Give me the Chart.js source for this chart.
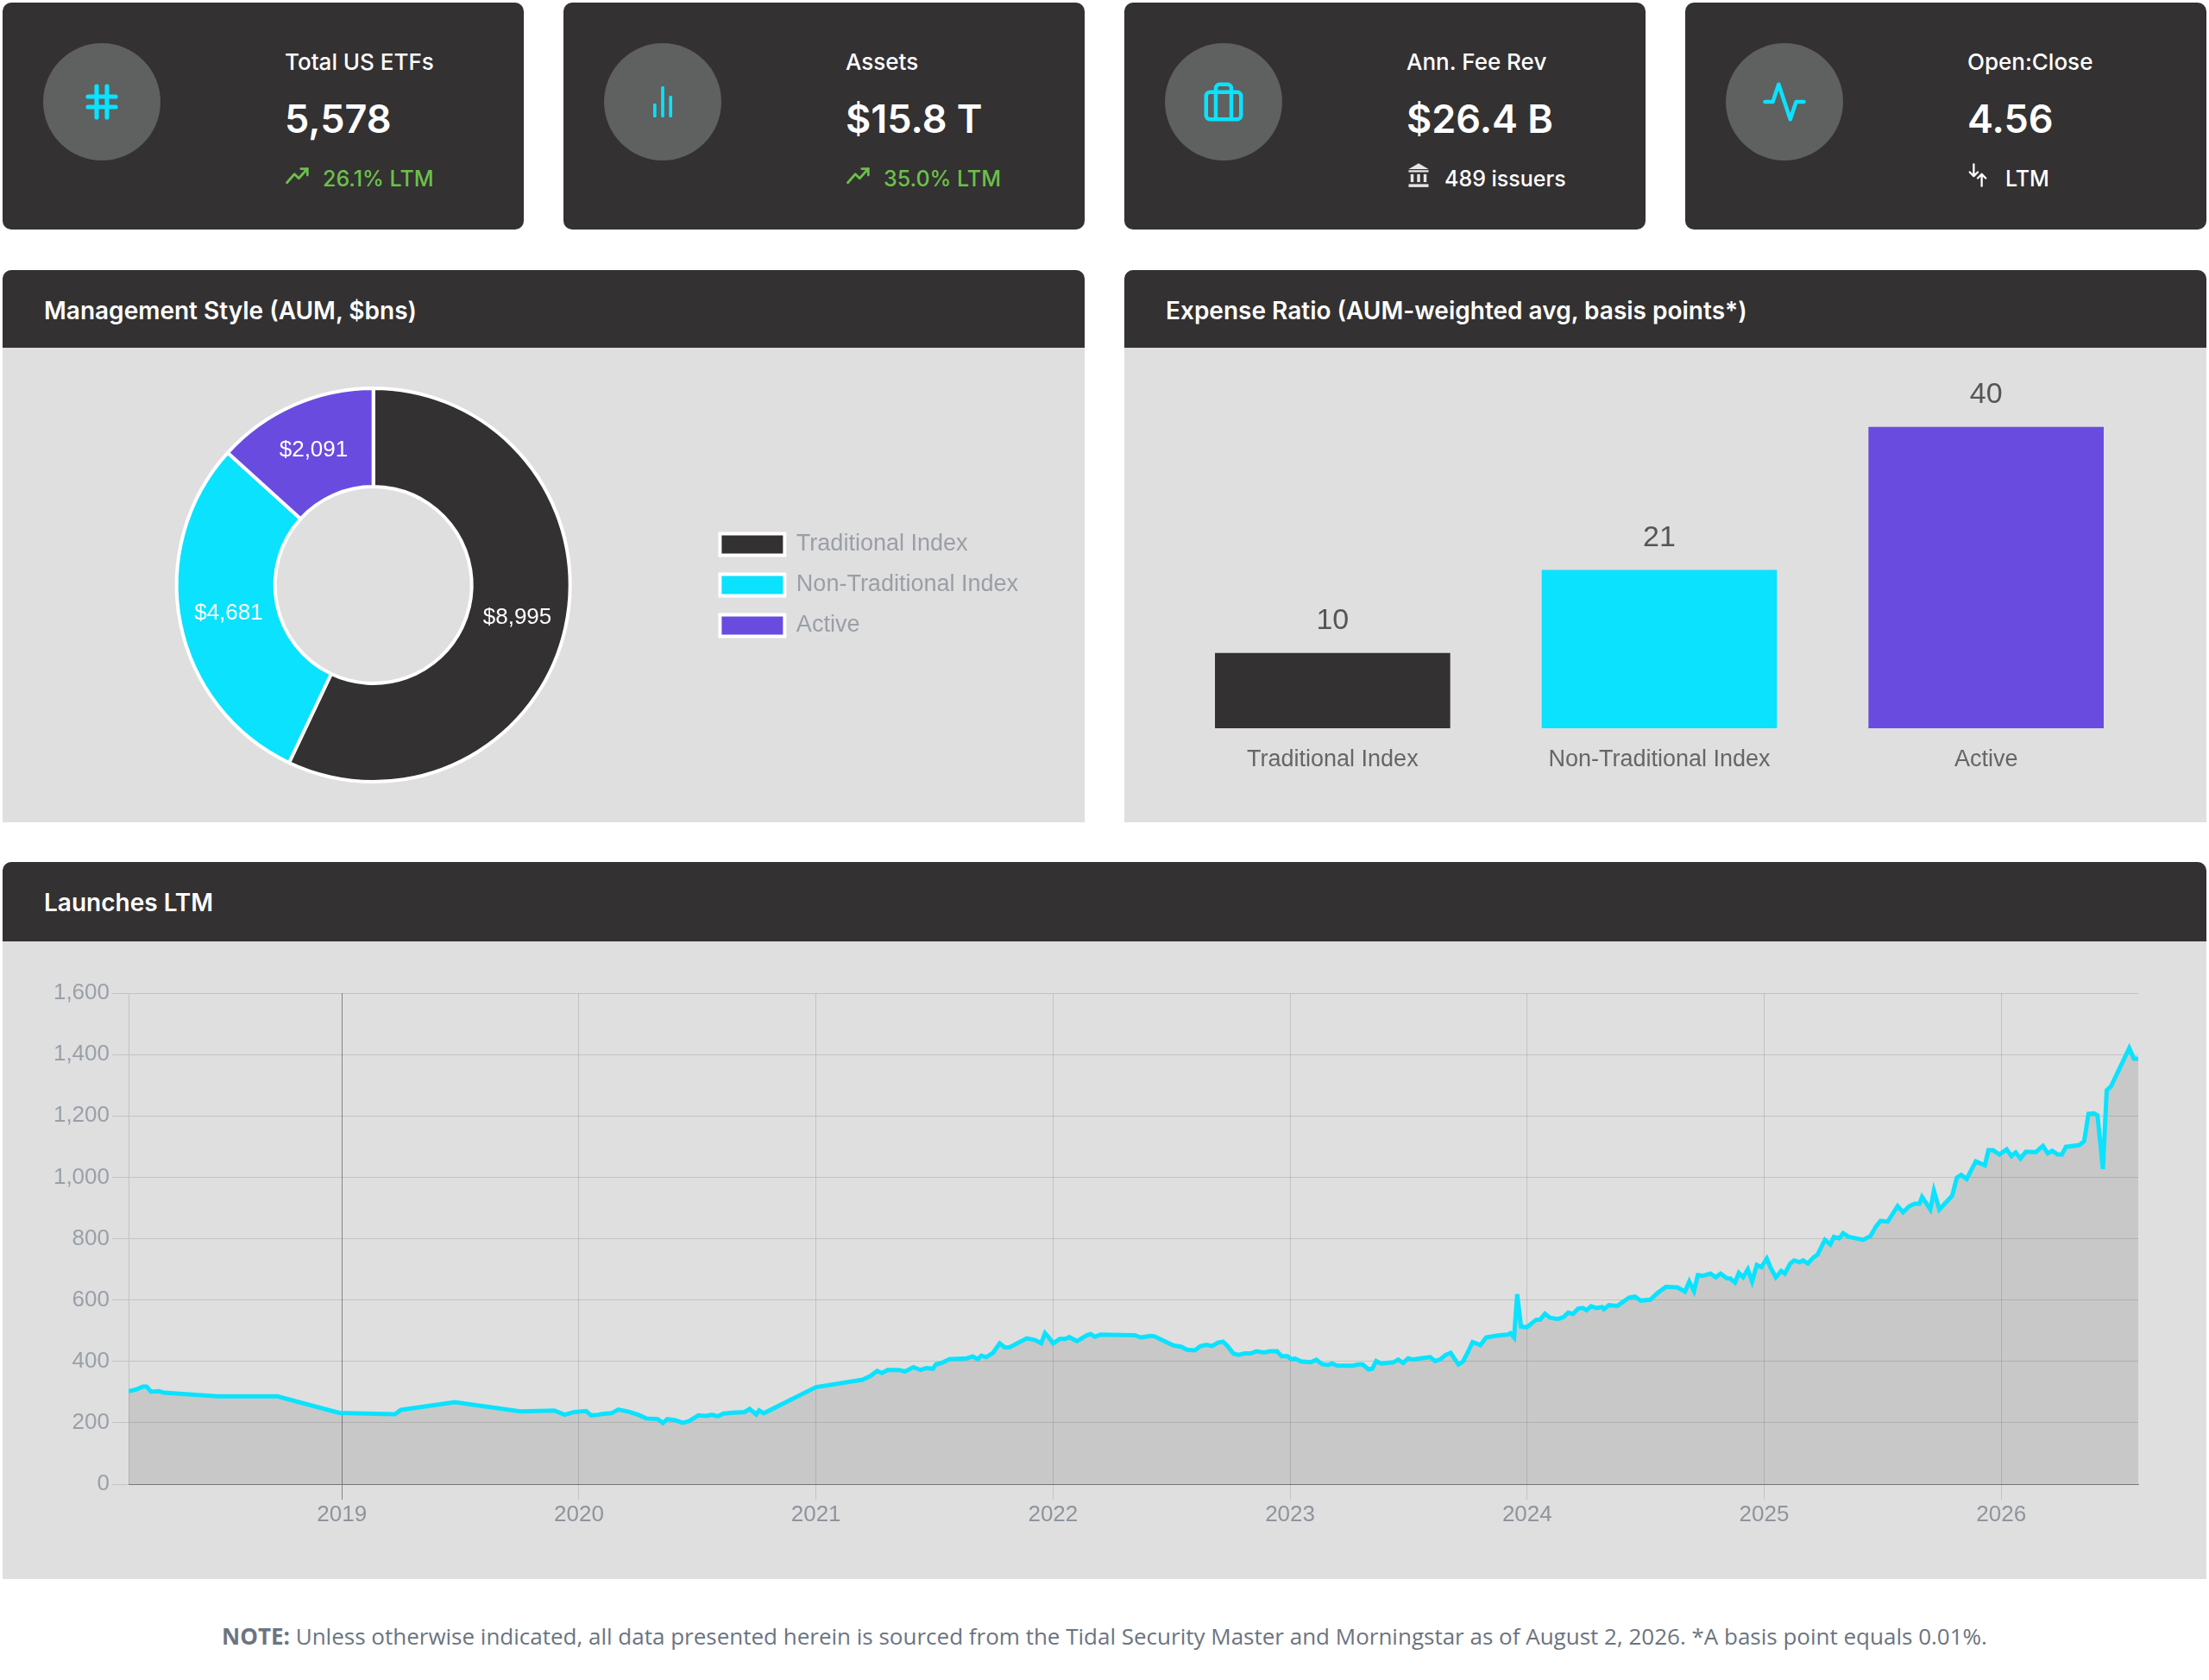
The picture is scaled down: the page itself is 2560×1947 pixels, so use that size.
<!DOCTYPE html>
<html lang="en">
<head>
<meta charset="utf-8">
<title>US ETF Dashboard</title>
<script src="https://cdn.jsdelivr.net/npm/chart.js@4.4.1/dist/chart.umd.min.js"></script>
<style>
  html, body { margin: 0; padding: 0; background: #fff; }
  body { width: 2560px; height: 1947px; position: relative; overflow: hidden; font-family: Inter, "Open Sans", sans-serif; }
  .card { position: absolute; top: 3px; width: 604px; height: 263px; background: #333132; border-radius: 10px; color: #fff; }
  .card .circle { position: absolute; left: 47px; top: 47px; width: 136px; height: 136px; border-radius: 50%; background: #5f6060; display: flex; align-items: center; justify-content: center; }
  .card .t { position: absolute; left: 327px; line-height: 1; white-space: nowrap; }
  .card .title { top: 56px; font-size: 26px; font-weight: 500; }
  .card .value { top: 112px; font-size: 45px; font-weight: 600; }
  .card .sub { top: 192px; left: 371px; font-size: 25px; font-weight: 500; }
  .card .subicon { position: absolute; left: 327px; top: 185px; }
  .panel { position: absolute; background: #dfdfdf; border-radius: 10px 10px 0 0; overflow: hidden; }
  .panel .head { position: absolute; left: 0; top: 0; right: 0; background: #333132; }
  .panel .head span { position: absolute; left: 48px; font-size: 28px; font-weight: 600; color: #fff; line-height: 1; white-space: nowrap; }
  .panel canvas { position: absolute; left: 0; }
  .note { position: absolute; left: 0; top: 1883px; width: 2560px; text-align: center; font-family: "Open Sans", sans-serif; font-size: 26px; color: #6b7480; line-height: 1; }
</style>
</head>
<body>

<div id="cards"></div>

<div class="panel" style="left:3px;top:313px;width:1254px;height:640px">
  <div class="head" style="height:90px"><span style="top:33px">Management Style (AUM, $bns)</span></div>
  <canvas id="styleChart" width="1254" height="550" style="top:90px"></canvas>
</div>

<div class="panel" style="left:1303px;top:313px;width:1254px;height:640px">
  <div class="head" style="height:90px"><span style="top:33px">Expense Ratio (AUM-weighted avg, basis points*)</span></div>
  <canvas id="expenseChart" width="1254" height="550" style="top:90px"></canvas>
</div>

<div class="panel" style="left:3px;top:999px;width:2554px;height:831px">
  <div class="head" style="height:92px"><span style="top:33px">Launches LTM</span></div>
  <canvas id="launchChart" width="2554" height="739" style="top:92px"></canvas>
</div>

<div class="note"><b>NOTE:</b> Unless otherwise indicated, all data presented herein is sourced from the Tidal Security Master and Morningstar as of August 2, 2026. *A basis point equals 0.01%.</div>

<script>
// Cartes KPI
const kpiTitles = ["Total US ETFs", "Assets", "Ann. Fee Rev", "Open:Close"];
const kpiValues = ["5,578", "$15.8 T", "$26.4 B", "4.56"];
const kpiSubs = ["26.1% LTM", "35.0% LTM", "489 issuers", "LTM"];

// Style de gestion
const styleLabels = ["Traditional Index", "Non-Traditional Index", "Active"];
const aumValues = [8995, 4681, 2091];
const expenseBps = [10, 21, 40];
const styleColors = ["#333132", "#0be2fd", "#6a4be0"];

// Lancements LTM (année décimale / nombre)
const launchYears = [
  2018.100, 2018.135, 2018.160, 2018.176, 2018.195, 2018.228, 2018.249, 2018.476, 2018.728, 2018.989,
  2019.224, 2019.249, 2019.476, 2019.753, 2019.896, 2019.940, 2019.980,
  2020.030, 2020.052, 2020.080, 2020.104, 2020.137, 2020.166, 2020.210, 2020.250, 2020.284, 2020.333,
  2020.354, 2020.373, 2020.406, 2020.438, 2020.463, 2020.504, 2020.536, 2020.561, 2020.585, 2020.610,
  2020.650, 2020.699, 2020.720, 2020.748, 2020.760, 2020.780,
  2021.000, 2021.196, 2021.229, 2021.258, 2021.278, 2021.302, 2021.351, 2021.375, 2021.411, 2021.441,
  2021.465, 2021.493, 2021.506, 2021.530, 2021.563, 2021.636, 2021.661, 2021.682, 2021.698, 2021.718,
  2021.747, 2021.775, 2021.796, 2021.816, 2021.889, 2021.922, 2021.950, 2021.966, 2021.982,
  2022.000, 2022.028, 2022.052, 2022.068, 2022.101, 2022.142, 2022.158, 2022.177, 2022.199, 2022.345,
  2022.370, 2022.410, 2022.427, 2022.508, 2022.540, 2022.565, 2022.598, 2022.622, 2022.647, 2022.671,
  2022.695, 2022.717, 2022.736, 2022.760, 2022.782, 2022.809, 2022.834, 2022.858, 2022.890, 2022.915,
  2022.945, 2022.964, 2022.989,
  2023.005, 2023.021, 2023.046, 2023.086, 2023.111, 2023.135, 2023.160, 2023.176, 2023.200, 2023.265,
  2023.290, 2023.306, 2023.331, 2023.347, 2023.363, 2023.384, 2023.436, 2023.456, 2023.477, 2023.498,
  2023.518, 2023.550, 2023.591, 2023.612, 2023.635, 2023.656, 2023.677, 2023.710, 2023.730, 2023.746,
  2023.770, 2023.803, 2023.827, 2023.860, 2023.884, 2023.917, 2023.930, 2023.945, 2023.958, 2023.974,
  2023.998,
  2024.039, 2024.055, 2024.075, 2024.096, 2024.129, 2024.153, 2024.173, 2024.194, 2024.215, 2024.235,
  2024.251, 2024.270, 2024.292, 2024.316, 2024.324, 2024.345, 2024.381, 2024.406, 2024.430, 2024.454,
  2024.479, 2024.520, 2024.550, 2024.586, 2024.635, 2024.666, 2024.684, 2024.704, 2024.720, 2024.742,
  2024.773, 2024.796, 2024.816, 2024.842, 2024.857, 2024.877, 2024.893, 2024.911, 2024.931, 2024.949,
  2024.969, 2024.988,
  2025.011, 2025.026, 2025.049, 2025.072, 2025.087, 2025.110, 2025.126, 2025.149, 2025.164, 2025.184,
  2025.210, 2025.225, 2025.256, 2025.279, 2025.294, 2025.317, 2025.333, 2025.356, 2025.387, 2025.417,
  2025.448, 2025.471, 2025.491, 2025.521, 2025.563, 2025.586, 2025.613, 2025.635, 2025.655, 2025.666,
  2025.701, 2025.716, 2025.739, 2025.793, 2025.813, 2025.831, 2025.854, 2025.893, 2025.931, 2025.946,
  2025.966, 2025.992,
  2026.023, 2026.043, 2026.061, 2026.081, 2026.104, 2026.146, 2026.176, 2026.196, 2026.215, 2026.238,
  2026.256, 2026.273, 2026.330, 2026.350, 2026.368, 2026.391, 2026.406, 2026.429, 2026.445, 2026.463,
  2026.540, 2026.560, 2026.578
];
const launchCounts = [
  303, 309, 318, 318, 301, 303, 298, 286, 286, 232,
  228, 242, 267, 237, 240, 226, 235,
  238, 224, 226, 229, 231, 243, 236, 226, 214, 212,
  199, 212, 208, 200, 205, 224, 222, 226, 221, 230,
  233, 235, 245, 227, 240, 231,
  316, 340, 352, 369, 362, 372, 372, 367, 381, 372,
  378, 376, 390, 395, 407, 410, 416, 407, 419, 414,
  428, 459, 446, 446, 475, 470, 459, 492, 478,
  459, 473, 473, 479, 466, 485, 489, 480, 487, 485,
  478, 483, 482, 452, 448, 438, 436, 450, 454, 450,
  461, 464, 450, 426, 421, 426, 426, 433, 429, 433,
  433, 417, 417,
  407, 409, 400, 397, 405, 391, 388, 393, 386, 386,
  390, 390, 374, 376, 401, 393, 397, 406, 395, 410,
  406, 410, 414, 401, 407, 421, 428, 390, 400, 424,
  463, 453, 478, 482, 485, 487, 492, 478, 619, 514,
  511,
  536, 536, 555, 542, 538, 544, 559, 555, 572, 574,
  567, 580, 574, 577, 570, 583, 581, 595, 608, 611,
  598, 601, 623, 643, 641, 627, 660, 629, 681, 679,
  686, 674, 686, 671, 670, 657, 688, 674, 700, 660,
  714, 707,
  735, 707, 674, 695, 686, 719, 729, 723, 729, 719,
  740, 748, 796, 781, 806, 801, 818, 806, 801, 796,
  808, 839, 858, 855, 906, 886, 906, 914, 914, 936,
  895, 956, 895, 940, 999, 1008, 994, 1052, 1039, 1088,
  1088, 1074,
  1091, 1069, 1081, 1061, 1083, 1082, 1102, 1078, 1086, 1074,
  1074, 1099, 1105, 1118, 1207, 1208, 1202, 1027, 1283, 1296,
  1421, 1386, 1386
];
const yearTicks = [2019, 2020, 2021, 2022, 2023, 2024, 2025, 2026];

// Icônes (svg)
const cyan = "#0be2fd";
const mainIcons = [
  `<svg width="48" height="48" viewBox="0 0 24 24" fill="none" stroke="${cyan}" stroke-width="2.6" stroke-linecap="round"><path d="M9 3v18M15 3v18M4 9h16M4 15h16"/></svg>`,
  `<svg width="44" height="44" viewBox="0 0 24 24" fill="none" stroke="${cyan}" stroke-width="2" stroke-linecap="round"><path d="M7 14v7M12 3v18M17 9v12"/></svg>`,
  `<svg width="54" height="54" viewBox="0 0 24 24" fill="none" stroke="${cyan}" stroke-width="2" stroke-linejoin="round"><rect x="3" y="7" width="18" height="14" rx="2"/><path d="M8 7V5a2 2 0 0 1 2-2h4a2 2 0 0 1 2 2v2M8 7v14M16 7v14"/></svg>`,
  `<svg width="54" height="54" viewBox="0 0 24 24" fill="none" stroke="${cyan}" stroke-width="2" stroke-linejoin="round" stroke-linecap="round"><polyline points="2,12 6,12 9,3 15,21 18,12 22,12"/></svg>`,
];
const subIcons = [
  `<svg width="30" height="30" viewBox="0 0 24 24" fill="none" stroke="#6cc04a" stroke-width="2.2" stroke-linecap="round" stroke-linejoin="round"><polyline points="2,19 9,11 13,15 21,6"/><polyline points="15,6 21,6 21,12"/></svg>`,
  `<svg width="30" height="30" viewBox="0 0 24 24" fill="none" stroke="#6cc04a" stroke-width="2.2" stroke-linecap="round" stroke-linejoin="round"><polyline points="2,19 9,11 13,15 21,6"/><polyline points="15,6 21,6 21,12"/></svg>`,
  `<svg width="28" height="30" viewBox="0 0 24 26" fill="#e6e6e6"><path d="M12 1L2 7h20z"/><rect x="2" y="8" width="20" height="2"/><rect x="4" y="12" width="3" height="8"/><rect x="10.5" y="12" width="3" height="8"/><rect x="17" y="12" width="3" height="8"/><rect x="2" y="22" width="20" height="3"/></svg>`,
  `<svg width="24" height="30" viewBox="0 0 20 26" fill="none" stroke="#fff" stroke-width="2" stroke-linecap="round" stroke-linejoin="round"><path d="M6 2v12M2 10l4 4 4-4M14 24V12M10 16l4-4 4 4"/></svg>`,
];
const subColors = ["#6cc04a", "#6cc04a", "#fff", "#fff"];
const cardLefts = [3, 653, 1303, 1953];

document.getElementById("cards").innerHTML = kpiTitles
  .map(
    (t, i) => `
    <div class="card" style="left:${cardLefts[i]}px">
      <div class="circle">${mainIcons[i]}</div>
      <div class="t title">${t}</div>
      <div class="t value">${kpiValues[i]}</div>
      <div class="subicon">${subIcons[i]}</div>
      <div class="t sub" style="color:${subColors[i]}">${kpiSubs[i]}</div>
    </div>`
  )
  .join("");

Chart.defaults.font.family = "Arial, 'Liberation Sans', Helvetica, sans-serif";
Chart.defaults.animation = false;

// Étiquettes dans l'anneau
const arcLabels = {
  id: "arcLabels",
  afterDatasetsDraw(chart) {
    const { ctx } = chart;
    chart.getDatasetMeta(0).data.forEach((arc, i) => {
      const p = arc.tooltipPosition();
      ctx.save();
      ctx.fillStyle = "#fff";
      ctx.font = "26px Arial, 'Liberation Sans', sans-serif";
      ctx.textAlign = "center";
      ctx.textBaseline = "middle";
      ctx.fillText("$" + aumValues[i].toLocaleString("en-US"), p.x, p.y);
      ctx.restore();
    });
  },
};

// Étiquettes au-dessus des barres
const barLabels = {
  id: "barLabels",
  afterDatasetsDraw(chart) {
    const { ctx } = chart;
    chart.getDatasetMeta(0).data.forEach((bar, i) => {
      ctx.save();
      ctx.fillStyle = "#555";
      ctx.font = "34px Arial, 'Liberation Sans', sans-serif";
      ctx.textAlign = "center";
      ctx.textBaseline = "bottom";
      ctx.fillText(String(expenseBps[i]), bar.x, bar.y - 20);
      ctx.restore();
    });
  },
};

// 1. Anneau
new Chart(document.getElementById("styleChart"), {
  type: "doughnut",
  data: {
    labels: styleLabels,
    datasets: [{ data: aumValues, backgroundColor: styleColors, borderColor: "#fff", borderWidth: 4 }],
  },
  options: {
    responsive: false,
    devicePixelRatio: 1,
    cutout: "50%",
    layout: { padding: { left: 48, right: 67, top: 45, bottom: 45 } },
    plugins: {
      legend: {
        position: "right",
        labels: { boxWidth: 75, boxHeight: 25, padding: 20, color: "#9a9fa6", font: { size: 27 } },
      },
      tooltip: { enabled: false },
    },
  },
  plugins: [arcLabels],
});

// 2. Barres
new Chart(document.getElementById("expenseChart"), {
  type: "bar",
  data: {
    labels: styleLabels,
    datasets: [{ data: expenseBps, backgroundColor: styleColors }],
  },
  options: {
    responsive: false,
    devicePixelRatio: 1,
    layout: { padding: { left: 52, right: 66, top: 48, bottom: 49 } },
    scales: {
      x: {
        grid: { display: false, drawTicks: false },
        border: { display: false },
        ticks: { color: "#666", font: { size: 27 }, padding: 20 },
        afterFit: (s) => { s.height = 60; },
      },
      y: { display: false, min: 0, max: 45 },
    },
    plugins: { legend: { display: false }, tooltip: { enabled: false } },
  },
  plugins: [barLabels],
});

// 3. Lancements
new Chart(document.getElementById("launchChart"), {
  type: "line",
  data: {
    datasets: [
      {
        data: launchYears.map((x, i) => ({ x, y: launchCounts[i] })),
        borderColor: cyan,
        borderWidth: 5,
        backgroundColor: "rgba(0,0,0,0.1)",
        fill: "origin",
        pointRadius: 0,
        tension: 0,
      },
    ],
  },
  options: {
    responsive: false,
    devicePixelRatio: 1,
    layout: { padding: { left: 56, right: 79, top: 60, bottom: 59 } },
    scales: {
      x: {
        type: "linear",
        min: 2018.1,
        max: 2026.578,
        afterBuildTicks: (a) => { a.ticks = yearTicks.map((v) => ({ value: v })); },
        grid: {
          color: (c) => (c.tick && c.tick.value === 2019 ? "rgba(0,0,0,0.4)" : "rgba(0,0,0,0.12)"),
          tickLength: 18,
        },
        border: { color: "rgba(0,0,0,0.4)" },
        ticks: { color: "#8f949c", font: { size: 26 }, padding: 2, callback: (v) => String(v) },
        afterFit: (s) => { s.height = 51; },
      },
      y: {
        min: 0,
        max: 1600,
        ticks: { stepSize: 200, color: "#9aa0a8", font: { size: 26 }, padding: 3, callback: (v) => v.toLocaleString("en-US") },
        grid: { color: "rgba(0,0,0,0.12)", tickLength: 19 },
        border: { color: "rgba(0,0,0,0.12)" },
        afterFit: (s) => { s.width = 90; },
      },
    },
    plugins: { legend: { display: false }, tooltip: { enabled: false } },
  },
});
</script>
</body>
</html>
